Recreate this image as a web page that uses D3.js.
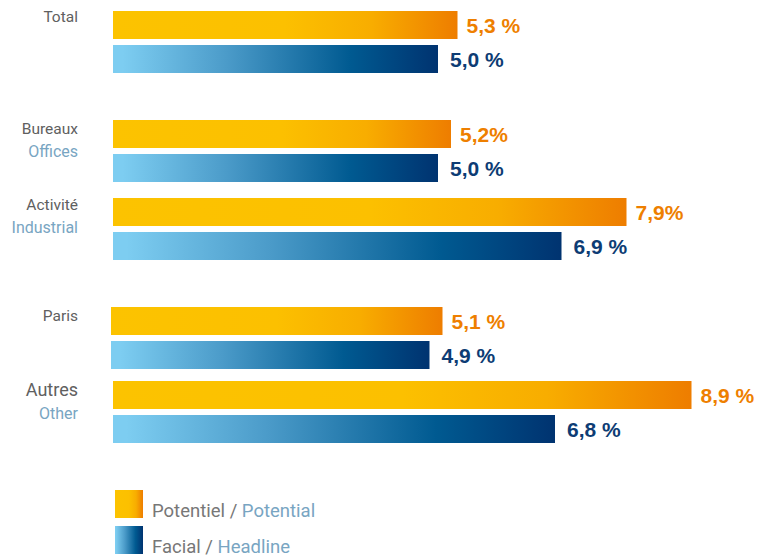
<!DOCTYPE html>
<html>
<head>
<meta charset="utf-8">
<script src="https://cdn.jsdelivr.net/npm/d3@7"></script>
<style>
  body { margin: 0; background: #fff; }
  svg { display: block; }
</style>
</head>
<body>
<div class="chart"></div>
<script>
// chart data
var groups = ["total", "bureaux", "activite", "paris", "autres"];
var labelsFr = ["Total", "Bureaux", "Activité", "Paris", "Autres"];
var labelsEn = ["", "Offices", "Industrial", "", "Other"];
var potentiel = [5.3, 5.2, 7.9, 5.1, 8.9];
var facial = [5.0, 5.0, 6.9, 4.9, 6.8];
var potentielText = ["5,3 %", "5,2%", "7,9%", "5,1 %", "8,9 %"];
var facialText = ["5,0 %", "5,0 %", "6,9 %", "4,9 %", "6,8 %"];
var legendFr = ["Potentiel", "Facial"];
var legendEn = ["Potential", "Headline"];

var svgW = 771;
var svgH = 558;

// top of each group's first bar
var groupTop = {total: 11, bureaux: 120, activite: 198, paris: 307, autres: 381};
var groupX = {total: 113, bureaux: 113, activite: 113, paris: 111, autres: 113};
var barH = 28;
var barGap = 6;

var svg = d3.select(".chart")
    .append("svg")
    .attr("width", svgW)
    .attr("height", svgH);

var defs = svg.append("defs");

var gOrange = defs.append("linearGradient").attr("id", "gradOrange");
[[0, "#fcc300"], [0.5, "#fcc000"], [0.75, "#f8ad00"], [1, "#ee7d00"]].forEach(function(s) {
    gOrange.append("stop").attr("offset", s[0]).attr("stop-color", s[1]);
});
var gBlue = defs.append("linearGradient").attr("id", "gradBlue");
[[0, "#7dcdf1"], [0.03, "#7dcdf1"], [0.35, "#4b9bc9"], [0.73, "#005a91"], [1, "#003370"]].forEach(function(s) {
    gBlue.append("stop").attr("offset", s[0]).attr("stop-color", s[1]);
});

// ~65px per percentage point
var x = d3.scaleLinear().domain([0, 10]).range([0, 650]);

var rows = groups.map(function(g, i) {
    return {key: g, fr: labelsFr[i], en: labelsEn[i], pot: potentiel[i], fac: facial[i],
            potT: potentielText[i], facT: facialText[i]};
});

var chart = svg.append("g");

var row = chart.selectAll("g.row")
    .data(rows)
    .enter().append("g")
    .attr("class", "row")
    .attr("transform", function(d) { return "translate(" + groupX[d.key] + "," + groupTop[d.key] + ")"; });

row.append("rect")
    .attr("x", 0)
    .attr("y", 0)
    .attr("width", function(d) { return x(d.pot); })
    .attr("height", barH)
    .style("fill", "url(#gradOrange)");

row.append("rect")
    .attr("x", 0)
    .attr("y", barH + barGap)
    .attr("width", function(d) { return x(d.fac); })
    .attr("height", barH)
    .style("fill", "url(#gradBlue)");

// value labels
row.append("text")
    .attr("x", function(d) { return x(d.pot) + 9; })
    .attr("y", barH / 2 + 8)
    .attr("font-family", "Liberation Sans, Arial, sans-serif")
    .attr("font-weight", "bold")
    .attr("font-size", 21)
    .attr("fill", "#ee7f00")
    .text(function(d) { return d.potT; });

row.append("text")
    .attr("x", function(d) { return x(d.fac) + 12; })
    .attr("y", barH + barGap + barH / 2 + 8)
    .attr("font-family", "Liberation Sans, Arial, sans-serif")
    .attr("font-weight", "bold")
    .attr("font-size", 21)
    .attr("fill", "#0d3c74")
    .text(function(d) { return d.facT; });

// category labels
var labelY = {total: 22, bureaux: 134, activite: 210, paris: 321, autres: 396};
chart.selectAll("text.fr")
    .data(rows)
    .enter().append("text")
    .attr("class", "fr")
    .attr("x", 78)
    .attr("y", function(d) { return labelY[d.key]; })
    .attr("text-anchor", "end")
    .attr("font-family", "Roboto, sans-serif")
    .attr("font-size", function(d) { return d.key == "autres" ? 18 : 15.5; })
    .attr("fill", "#606060")
    .text(function(d) { return d.fr; });

chart.selectAll("text.en")
    .data(rows.filter(function(d) { return d.en; }))
    .enter().append("text")
    .attr("class", "en")
    .attr("x", 78)
    .attr("y", function(d) { return labelY[d.key] + 23; })
    .attr("text-anchor", "end")
    .attr("font-family", "Roboto, sans-serif")
    .attr("font-size", 16)
    .attr("fill", "#78a5c2")
    .text(function(d) { return d.en; });

// legend
var legend = svg.append("g").attr("transform", "translate(115,490)");
var items = legend.selectAll("g")
    .data([0, 1])
    .enter().append("g")
    .attr("transform", function(d) { return "translate(0," + (d * 36) + ")"; });

items.append("rect")
    .attr("width", 28)
    .attr("height", 28)
    .style("fill", function(d) { return d == 0 ? "url(#gradOrange)" : "url(#gradBlue)"; });

var lt = items.append("text")
    .attr("x", 37)
    .attr("y", 27)
    .attr("font-family", "Roboto, sans-serif")
    .attr("font-size", 18.5)
    .attr("xml:space", "preserve");
lt.append("tspan").attr("fill", "#777").text(function(d) { return legendFr[d] + " / "; });
lt.append("tspan").attr("fill", "#78a5c2").text(function(d) { return legendEn[d]; });
</script>
</body>
</html>
